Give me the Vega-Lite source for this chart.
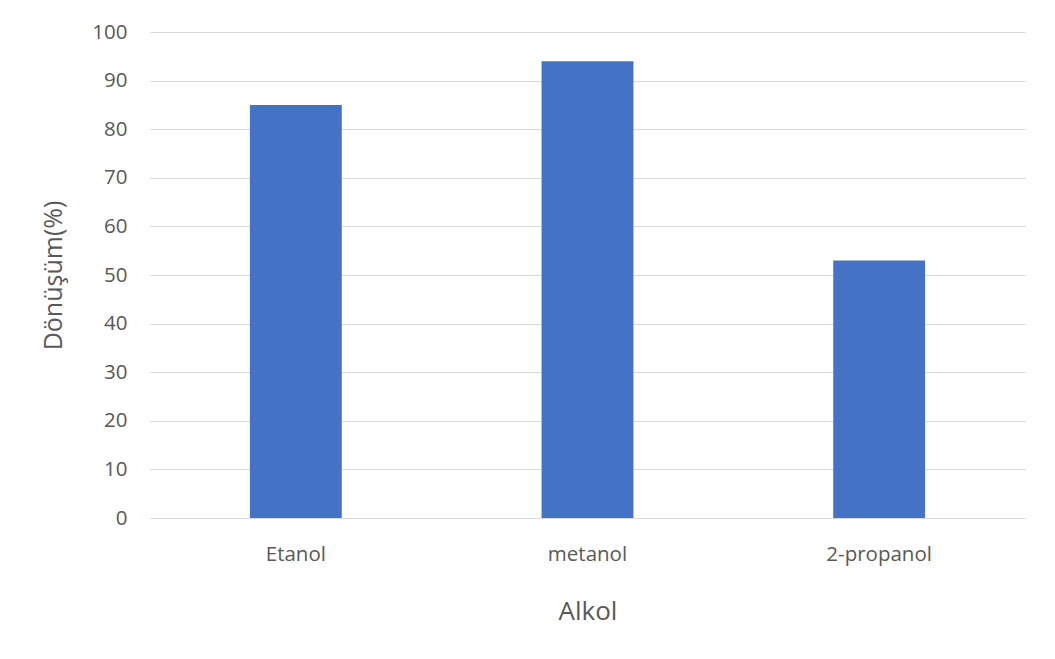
{
  "$schema": "https://vega.github.io/schema/vega-lite/v6.json",
  "width": 875,
  "height": 486,
  "autosize": {"type": "none"},
  "padding": {"left": 150, "top": 32, "right": 30, "bottom": 141},
  "background": "white",
  "data": {
    "values": [
      {"Alkol": "Etanol", "Donusum": 85},
      {"Alkol": "metanol", "Donusum": 94},
      {"Alkol": "2-propanol", "Donusum": 53}
    ]
  },
  "mark": {"type": "bar", "color": "#4472c4"},
  "encoding": {
    "x": {
      "field": "Alkol",
      "type": "nominal",
      "sort": null,
      "scale": {"paddingInner": 0.685, "paddingOuter": 0.3425},
      "axis": {
        "title": "Alkol",
        "labelAngle": 0,
        "domain": false,
        "ticks": false,
        "labelPadding": 26,
        "labelFontSize": 20.5,
        "labelColor": "#595959",
        "titleFontSize": 26,
        "titleFontWeight": "normal",
        "titleColor": "#595959",
        "titlePadding": 34
      }
    },
    "y": {
      "field": "Donusum",
      "type": "quantitative",
      "scale": {"domain": [0, 100]},
      "axis": {
        "title": "Dönüşüm(%)",
        "values": [0, 10, 20, 30, 40, 50, 60, 70, 80, 90, 100],
        "domain": false,
        "ticks": false,
        "labelPadding": 23,
        "labelFontSize": 20.5,
        "labelColor": "#595959",
        "gridColor": "#d9d9d9",
        "gridWidth": 1.2,
        "titleFontSize": 25,
        "titleFontWeight": "normal",
        "titleColor": "#595959",
        "titlePadding": 25
      }
    }
  },
  "config": {
    "font": "Open Sans",
    "view": {"stroke": null}
  }
}
